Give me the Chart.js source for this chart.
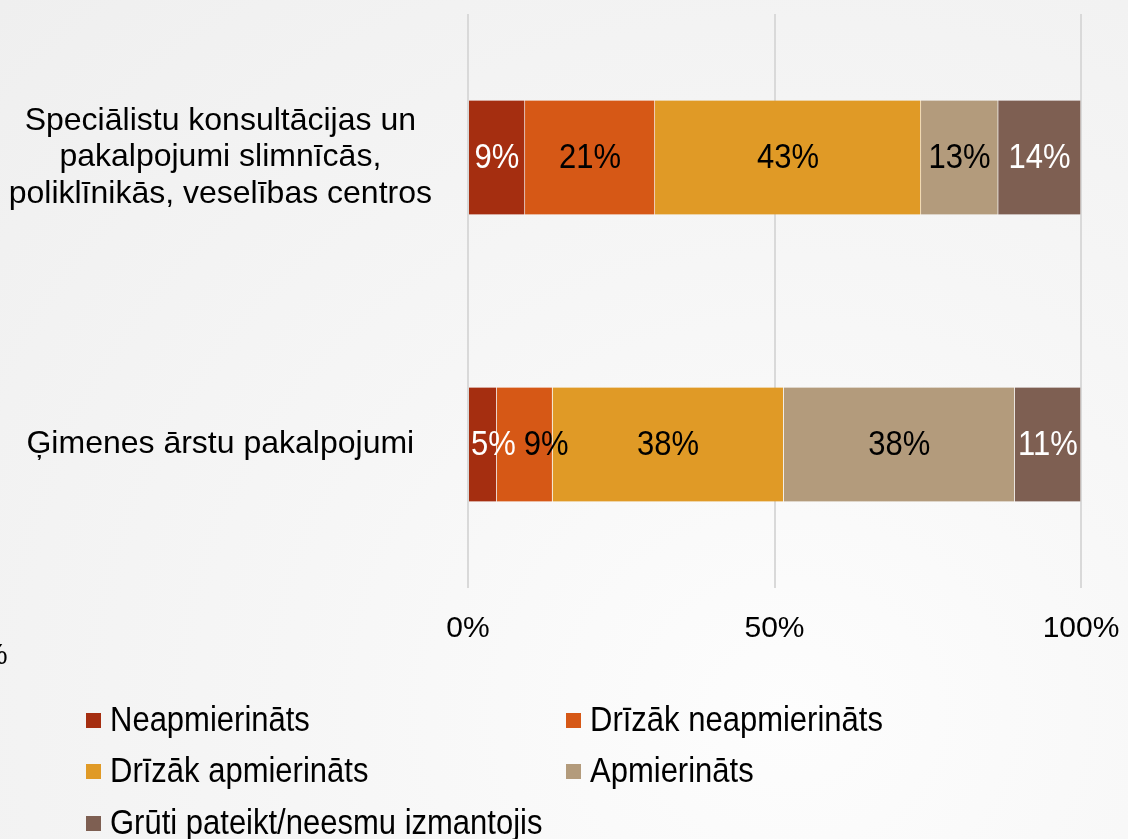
<!DOCTYPE html>
<html>
<head>
<meta charset="utf-8">
<script src="https://cdn.jsdelivr.net/npm/chart.js@4/dist/chart.umd.min.js"></script>
<style>
  html, body { margin: 0; padding: 0; }
  body {
    width: 1128px; height: 839px; overflow: hidden; position: relative;
    background: radial-gradient(ellipse at 70% 85%, #fdfdfd 0%, #f6f6f6 45%, #efefef 100%);
    font-family: "Liberation Sans", Arial, sans-serif;
  }
  #wrap { position: absolute; left: 0; top: 0; width: 1128px; height: 839px; }
  .legend { position: absolute; left: 0; top: 0; }
  .item { position: absolute; display: flex; align-items: center; font-size: 31px; color: #000; white-space: nowrap; }
  .item span { display: inline-block; transform: scaleY(1.12); }
  .item i { display: inline-block; width: 15px; height: 15px; margin-right: 9px; }
  .stray { position: absolute; left: -19px; top: 637px; font-size: 30px; color: #000; }
</style>
</head>
<body>
<div id="wrap"><canvas id="chart" width="1128" height="839"></canvas></div>
<div class="legend" id="legend"></div>
<div class="stray">%</div>
<script>
  // categories, top to bottom
  const categories = [
    ["Speciālistu konsultācijas un", "pakalpojumi slimnīcās,", "poliklīnikās, veselības centros"],
    ["Ģimenes ārstu pakalpojumi"]
  ];
  const seriesNames = ["Neapmierināts", "Drīzāk neapmierināts", "Drīzāk apmierināts", "Apmierināts", "Grūti pateikt/neesmu izmantojis"];
  const seriesColors = ["#a52e10", "#d65816", "#e09a26", "#b39b7c", "#7e5f52"];
  const labelColors = ["#ffffff", "#000000", "#000000", "#000000", "#ffffff"];

  // share of answers, % (one value per category)
  const neapmierinats = [9.3, 4.7];
  const drizakNeapm = [21.2, 9.1];
  const drizakApm = [43.4, 37.7];
  const apmierinats = [12.6, 37.7];
  const gruti = [13.5, 10.8];

  const xTicks = [0, 50, 100];

  const seriesValues = [neapmierinats, drizakNeapm, drizakApm, apmierinats, gruti];

  // legend in two columns, built from the series arrays
  const legendSlots = [[86, 720], [566, 720], [86, 771], [566, 771], [86, 823]];
  const leg = document.getElementById("legend");
  seriesNames.forEach((n, i) => {
    const d = document.createElement("div");
    d.className = "item";
    d.style.left = legendSlots[i][0] + "px";
    d.style.top = (legendSlots[i][1] - 18) + "px";
    d.innerHTML = `<i style="background:${seriesColors[i]}"></i><span>${n}</span>`;
    leg.appendChild(d);
  });

  // value labels inside the bars; nudged right when they would overlap the previous one
  const barLabels = {
    id: "barLabels",
    afterDatasetsDraw(chart) {
      const ctx = chart.ctx;
      ctx.save();
      ctx.font = "31px 'Liberation Sans', Arial, sans-serif";
      ctx.textBaseline = "middle";
      ctx.textAlign = "left";
      categories.forEach((c, idx) => {
        let lastRight = -Infinity;
        chart.data.datasets.forEach((ds, di) => {
          const bar = chart.getDatasetMeta(di).data[idx];
          const txt = Math.round(ds.data[idx]) + "%";
          const w = ctx.measureText(txt).width;
          const left = Math.min(bar.x, bar.base);
          let x = (bar.x + bar.base) / 2 - w / 2;
          if (x < left + 2) x = left + 2;
          if (x < lastRight + 8) x = lastRight + 8;
          ctx.fillStyle = labelColors[di];
          ctx.save();
          ctx.translate(x, bar.y + 1);
          ctx.scale(1, 1.12);
          ctx.fillText(txt, 0, 0);
          ctx.restore();
          lastRight = x + w;
        });
      });
      ctx.restore();
    }
  };

  new Chart(document.getElementById("chart"), {
    type: "bar",
    data: {
      labels: categories,
      datasets: seriesNames.map((n, i) => ({
        label: n,
        data: seriesValues[i],
        backgroundColor: seriesColors[i],
        borderColor: "rgba(255,255,255,0.35)",
        borderWidth: { left: 0, right: 1, top: 0, bottom: 0 },
        borderSkipped: false,
        barThickness: 114,
      })),
    },
    options: {
      indexAxis: "y",
      responsive: false,
      animation: false,
      devicePixelRatio: 1,
      layout: { padding: { left: 0, top: 14, right: 47, bottom: 169 } },
      plugins: { legend: { display: false }, tooltip: { enabled: false } },
      scales: {
        x: {
          stacked: true, min: 0, max: 100,
          afterBuildTicks: (s) => { s.ticks = xTicks.map((v) => ({ value: v })); },
          afterFit: (s) => { s.paddingLeft = 0; s.paddingRight = 0; },
          ticks: {
            callback: (v) => v + "%", color: "#000", padding: 23,
            font: { family: "'Liberation Sans', Arial, sans-serif", size: 30 },
            maxRotation: 0,
          },
          grid: { color: "#d9d9d9", lineWidth: 2, drawTicks: false },
          border: { display: false },
        },
        y: {
          stacked: true,
          afterFit: (s) => { s.width = 468; s.paddingTop = 0; s.paddingBottom = 0; },
          ticks: {
            color: "#000", padding: 28, crossAlign: "center",
            font: { family: "'Liberation Sans', Arial, sans-serif", size: 32, lineHeight: 1.15 },
          },
          grid: { display: false },
          border: { display: false },
        },
      },
    },
    plugins: [barLabels],
  });
</script>
</body>
</html>
